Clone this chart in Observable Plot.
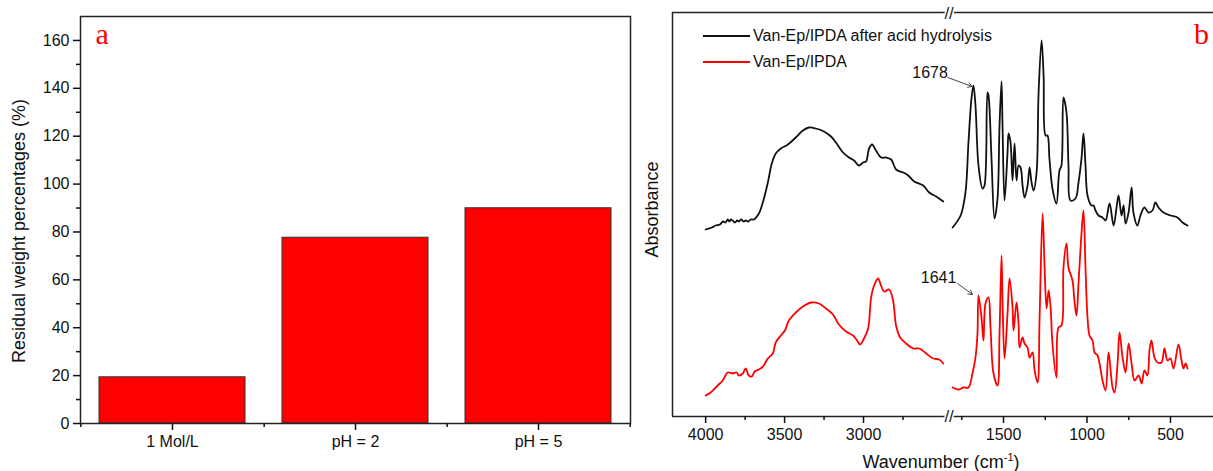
<!DOCTYPE html>
<html>
<head>
<meta charset="utf-8">
<script src="https://cdn.jsdelivr.net/npm/d3@7"></script>
<script src="https://cdn.jsdelivr.net/npm/@observablehq/plot@0.6"></script>
<style>
  html, body { margin: 0; padding: 0; background: #fff; overflow: hidden; }
  #wrap { position: relative; width: 1213px; height: 471px; overflow: hidden; background: #fff; }
  #pa { position: absolute; left: 0; top: 0; width: 640px; }
  #pbL { position: absolute; left: 640px; top: 0; width: 308px; }
  #pbR { position: absolute; left: 948px; top: 0; width: 272px; }
  #pbL svg, #pbR svg { overflow: visible; }
  #legend { position: absolute; left: 703px; top: 23px; font-family: "Liberation Sans", Arial, sans-serif; font-size: 16px; color: #111; }
  .row { display: flex; align-items: center; height: 26px; }
  .sw { width: 47px; height: 1.8px; margin-right: 3px; }
  #xtitle { position: absolute; left: 941px; top: 447px; transform: translateX(-50%); white-space: nowrap;
    font-family: "Liberation Sans", Arial, sans-serif; font-size: 18px; line-height: 20px; color: #111; }
</style>
</head>
<body>
<div id="wrap">
  <div id="pa"></div>
  <div id="pbL"></div>
  <div id="pbR"></div>
  <div id="legend">
    <div class="row"><div class="sw" style="background:#111"></div>Van-Ep/IPDA after acid hydrolysis</div>
    <div class="row"><div class="sw" style="background:#ff0000"></div>Van-Ep/IPDA</div>
  </div>
  <div id="xtitle">Wavenumber (cm<sup style="font-size:11px;vertical-align:7px">-1</sup>)</div>
</div>
<script>
// ---------- Panel a data ----------
const categories = ["1 Mol/L", "pH = 2", "pH = 5"];
const residual = [19.3, 77.6, 89.9];
const yMajorA = [0, 20, 40, 60, 80, 100, 120, 140, 160];
const yMinorA = [10, 30, 50, 70, 90, 110, 130, 150];
const yTitleA = "Residual weight percentages (%)";

// ---------- Panel b data (wavenumber, absorbance a.u.) ----------
const blackHigh = [
  [4000,187],[3960,189],[3937,191],[3910,192],[3890,195],[3875,194],[3860,197],[3850,195],[3840,197],[3829,196],
  [3815,194],[3800,196],[3790,195],[3775,197],[3760,195],[3746,196],[3730,195],[3715,197],[3695,197],[3663,203],
  [3638,214],[3606,234],[3581,253],[3556,263],[3524,268],[3479,272],[3429,279],[3384,286],[3346,289],[3302,288],
  [3251,285],[3206,280],[3175,274],[3130,264],[3092,259],[3060,256],[3029,251],[3003,254],[2984,255],[2965,268],
  [2946,272],[2921,266],[2889,259],[2857,259],[2825,257],[2794,247],[2749,244],[2717,241],[2679,235],[2622,231],
  [2584,224],[2540,220],[2495,215]
];
const blackLow = [
  [1805,189],[1757,201],[1728,224],[1710,274],[1692,318],[1680,331],[1668,311],[1650,251],[1626,228],[1614,231],
  [1596,324],[1590,321],[1572,258],[1554,198],[1536,218],[1524,291],[1512,335],[1506,291],[1494,216],[1476,264],
  [1470,283],[1458,274],[1446,236],[1434,273],[1422,236],[1410,251],[1398,249],[1386,231],[1374,219],[1356,231],
  [1344,249],[1332,234],[1320,226],[1302,244],[1290,324],[1272,376],[1260,341],[1248,281],[1237,281],[1225,258],
  [1207,228],[1183,213],[1165,246],[1153,251],[1141,319],[1123,304],[1111,251],[1099,216],[1069,218],[1051,234],
  [1033,258],[1021,283],[1009,251],[997,221],[973,211],[961,211],[949,206],[931,201],[907,199],[889,196],
  [865,213],[841,191],[823,209],[811,221],[793,201],[781,211],[769,193],[751,204],[733,229],[722,204],
  [698,191],[680,201],[656,209],[632,204],[608,206],[590,214],[572,209],[542,204],[500,201],[458,199],
  [428,194],[398,191]
];
const redHigh = [
  [4000,21],[3968,24],[3924,31],[3892,36],[3860,44],[3829,43],[3803,44],[3790,41],[3765,43],[3746,48],
  [3727,41],[3708,40],[3689,45],[3663,47],[3644,49],[3632,51],[3606,58],[3575,63],[3556,74],[3524,81],
  [3498,86],[3473,96],[3429,104],[3384,110],[3333,114],[3283,113],[3238,108],[3194,102],[3156,92],[3111,85],
  [3067,81],[3041,76],[3022,72],[2997,78],[2971,88],[2952,119],[2933,131],[2908,138],[2889,131],[2870,125],
  [2838,127],[2813,116],[2794,91],[2768,79],[2730,73],[2686,68],[2648,68],[2603,63],[2559,58],[2521,57],
  [2495,53]
];
const redLow = [
  [1805,29],[1769,27],[1740,29],[1710,29],[1686,43],[1668,59],[1656,83],[1650,121],[1632,99],[1620,76],
  [1608,113],[1590,119],[1578,89],[1560,43],[1536,31],[1524,83],[1512,161],[1506,116],[1494,58],[1476,103],
  [1464,138],[1446,109],[1440,86],[1422,114],[1410,93],[1404,69],[1386,79],[1374,73],[1356,69],[1344,59],
  [1326,64],[1314,46],[1296,34],[1284,99],[1266,203],[1254,149],[1242,108],[1230,126],[1218,109],[1207,73],
  [1183,39],[1171,89],[1153,91],[1141,149],[1123,173],[1111,149],[1087,136],[1075,115],[1063,101],[1051,133],
  [1033,183],[1021,206],[1009,149],[997,99],[985,81],[967,76],[955,64],[937,61],[925,53],[907,36],
  [889,26],[871,64],[847,29],[835,24],[817,53],[805,84],[787,59],[769,44],[751,73],[733,53],
  [715,36],[691,41],[673,33],[656,46],[638,41],[626,66],[614,76],[596,59],[578,54],[554,54],
  [536,68],[518,56],[500,58],[482,48],[452,72],[434,56],[422,48],[410,53],[398,48]
];
const xMajorHigh = [4000, 3500, 3000];
const xMinorHigh = [3750, 3250, 2750];
const xMajorLow = [1500, 1000, 500];
const xMinorLow = [1750, 1250, 750];
const domainHigh = [4210, 2465];
const domainLow = [1820, 240];
const yDomainB = [0, 404];
const peakLabels = ["1678", "1641"];
const peakLabelWn = [1940, 1889];
const peakLabelA = [344, 139];
const arrowFrom = [[1834, 339], [1775, 133]];
const arrowTo = [[1688, 330], [1686, 122]];

const font = "'Liberation Sans', Arial, sans-serif";
const serif = "'Liberation Serif', 'Times New Roman', serif";
const baseStyle = {fontFamily: font, fontSize: "16px", color: "#111", background: "transparent"};
const lineW = 1.8;

// ---------- Panel a ----------
const bars = categories.map((c, i) => ({cat: c, val: residual[i]}));
const xa = Plot.scale({x: {type: "band", domain: categories, range: [80, 630], paddingInner: 0.2, paddingOuter: 0.1}});
const stepA = xa.step || 550 / 3;

const plotA = Plot.plot({
  width: 640, height: 471,
  marginLeft: 80, marginRight: 10, marginTop: 16, marginBottom: 48,
  style: baseStyle,
  x: {type: "band", domain: categories, paddingInner: 0.2, paddingOuter: 0.1, label: null},
  y: {domain: [0, 170], label: null},
  marks: [
    Plot.barY(bars, {x: "cat", y: "val", fill: "#ff0000", stroke: "#333", strokeWidth: 1}),
    Plot.frame({stroke: "#222", strokeWidth: 1.5}),
    Plot.axisY({ticks: yMajorA, tickSize: 7, tickPadding: 4, strokeWidth: 1.5, label: null}),
    Plot.axisY({ticks: yMinorA, tickSize: 4, tickFormat: () => "", strokeWidth: 1.5, label: null}),
    Plot.axisX({tickSize: 7, tickPadding: 5, strokeWidth: 1.5, label: null}),
    Plot.axisX(categories, {tickSize: 4, tickFormat: () => "", dx: stepA / 2, strokeWidth: 1.5, label: null}),
    Plot.axisX([categories[0]], {tickSize: 4, tickFormat: () => "", dx: -stepA / 2, strokeWidth: 1.5, label: null}),
    Plot.text([yTitleA], {text: d => d, frameAnchor: "left", textAnchor: "middle", lineAnchor: "middle", rotate: -90, dx: -61, dy: 11, fontSize: 18, fill: "#111"}),
    Plot.text(["a"], {text: d => d, frameAnchor: "top-left", textAnchor: "start", lineAnchor: "top", dx: 15, dy: 6,
      fill: "#ff0000", fontFamily: serif, fontSize: 30})
  ]
});
document.getElementById("pa").appendChild(plotA);

// ---------- Panel b, high-wavenumber segment ----------
const plotBL = Plot.plot({
  width: 308, height: 471,
  marginLeft: 32, marginRight: 0.5, marginTop: 12, marginBottom: 55,
  style: baseStyle,
  x: {domain: domainHigh, label: null},
  y: {domain: yDomainB, axis: null, label: null},
  marks: [
    Plot.ruleY(yDomainB, {stroke: "#222", strokeWidth: 1.5}),
    Plot.ruleX([domainHigh[0]], {stroke: "#222", strokeWidth: 1.5}),
    Plot.line(blackHigh, {x: d => d[0], y: d => d[1], stroke: "#111", strokeWidth: lineW, curve: "catmull-rom"}),
    Plot.line(redHigh, {x: d => d[0], y: d => d[1], stroke: "#ff0000", strokeWidth: lineW, curve: "catmull-rom"}),
    Plot.axisX({ticks: xMajorHigh, tickSize: 7, tickPadding: 5, strokeWidth: 1.5, label: null, tickFormat: d => String(d)}),
    Plot.axisX({ticks: xMinorHigh, tickSize: 4, tickFormat: () => "", strokeWidth: 1.5, label: null}),
    Plot.text(["Absorbance"], {text: d => d, frameAnchor: "left", textAnchor: "middle", lineAnchor: "middle", rotate: -90, dx: -20, dy: -5, fontSize: 18, fill: "#111"})
  ]
});
document.getElementById("pbL").appendChild(plotBL);

// ---------- Panel b, low-wavenumber segment ----------
const annots = peakLabels.map((t, i) => ({
  t, tw: peakLabelWn[i], ta: peakLabelA[i],
  x1: arrowFrom[i][0], y1: arrowFrom[i][1], x2: arrowTo[i][0], y2: arrowTo[i][1]
}));
const plotBR = Plot.plot({
  width: 272, height: 471,
  marginLeft: 1.6, marginRight: 6.6, marginTop: 12, marginBottom: 55,
  style: baseStyle,
  x: {domain: domainLow, label: null},
  y: {domain: yDomainB, axis: null, label: null},
  marks: [
    Plot.ruleY(yDomainB, {stroke: "#222", strokeWidth: 1.5, x1: domainLow[0], x2: 0}),
    Plot.line(blackLow, {x: d => d[0], y: d => d[1], stroke: "#111", strokeWidth: lineW, curve: "catmull-rom"}),
    Plot.line(redLow, {x: d => d[0], y: d => d[1], stroke: "#ff0000", strokeWidth: lineW, curve: "catmull-rom"}),
    Plot.axisX({ticks: xMajorLow, tickSize: 7, tickPadding: 5, strokeWidth: 1.5, label: null, tickFormat: d => String(d)}),
    Plot.axisX({ticks: xMinorLow, tickSize: 4, tickFormat: () => "", strokeWidth: 1.5, label: null}),
    Plot.text(domainLow.slice(0, 1), {x: d => d, dx: -1, dy: 1, frameAnchor: "top", lineAnchor: "middle", text: () => "//", fontSize: 17, fill: "#222", stroke: "#fff", strokeWidth: 3}),
    Plot.text(domainLow.slice(0, 1), {x: d => d, dx: -1, dy: 0, frameAnchor: "bottom", lineAnchor: "middle", text: () => "//", fontSize: 17, fill: "#222", stroke: "#fff", strokeWidth: 3}),
    Plot.arrow(annots, {x1: "x1", y1: "y1", x2: "x2", y2: "y2", stroke: "#444", strokeWidth: 1, headLength: 7}),
    Plot.text(annots, {x: "tw", y: "ta", text: "t", fontSize: 16, fill: "#111"}),
    Plot.text(["b"], {text: d => d, frameAnchor: "top-right", textAnchor: "end", lineAnchor: "top", dx: -5, dy: 10,
      fill: "#ff0000", fontFamily: serif, fontSize: 30})
  ]
});
document.getElementById("pbR").appendChild(plotBR);
</script>
</body>
</html>
